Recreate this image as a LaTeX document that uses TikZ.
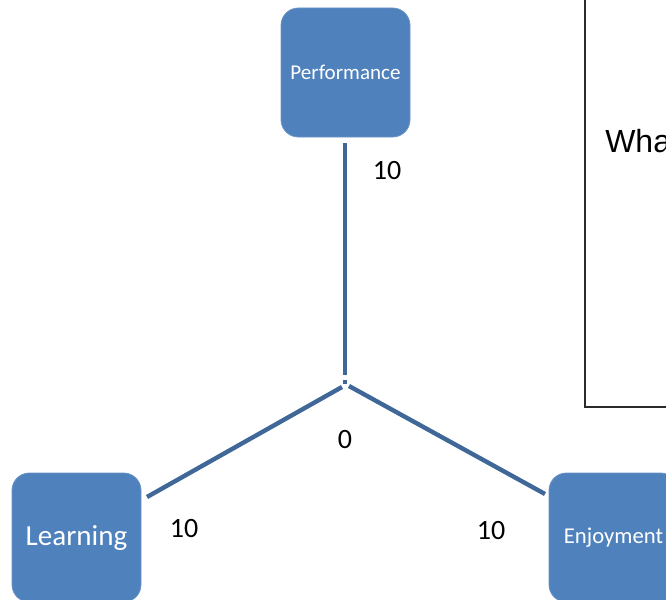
\documentclass[tikz,border=0pt]{standalone}
\usepackage{fontspec}
\setmainfont{Liberation Sans}
\newfontfamily\boxfont{Carlito}
\definecolor{boxblue}{HTML}{4F81BD}
\definecolor{lineblue}{HTML}{3F6797}
\definecolor{frame}{HTML}{2B2B2B}
\begin{document}
\begin{tikzpicture}[x=0.75pt,y=-0.75pt,
  dimbox/.style={fill=boxblue,draw=boxblue!85!white,line width=0.6pt,rounded corners=13pt,
     minimum width=96.75pt,minimum height=96.75pt,inner sep=0pt,text=white,font=\boxfont},
  axis/.style={draw=lineblue,line width=3.3pt},
  val/.style={font=\boxfont\fontsize{21}{24}\selectfont,inner sep=0pt}]
\useasboundingbox (0,0) rectangle (666,599);
\clip (0,0) rectangle (666,599);
% text panel
\draw[frame,line width=1.5pt] (585,-20) rectangle (720,407);
\node[anchor=base west,inner sep=0pt,font=\fontsize{24}{27}\selectfont] (what) at (605,152) {Wha};
% boxes
\node[dimbox,font=\boxfont\fontsize{15.8}{18}\selectfont] (perf) at (345.5,72.5) {Performance};
\node[dimbox,font=\boxfont\fontsize{21.8}{24}\selectfont] (learn) at (76.5,537.5) {Learning};
\node[dimbox,font=\boxfont\fontsize{17}{20}\selectfont] (enjoy) at (613.5,537.5) {Enjoyment};
% axis end points
\coordinate (ptop) at (345,143);
\coordinate (pbot) at (345,375);
\coordinate (lstart) at (342,387);
\coordinate (lend) at (147,497);
\coordinate (rstart) at (349,386);
\coordinate (rend) at (545,494);
\coordinate (dot) at (345,381.5);
\draw[axis] (ptop) -- (pbot);
\draw[axis] (lstart) -- (lend);
\draw[axis] (rstart) -- (rend);
\fill[lineblue] ([shift={(-2,-2)}]dot) rectangle ([shift={(2,2)}]dot);
% values
\node[val] (vp) at (387,171) {10};
\node[val] (vl) at (184,529) {10};
\node[val] (vr) at (491,531) {10};
\node[val] (vo) at (345,440) {0};
\end{tikzpicture}
\end{document}
